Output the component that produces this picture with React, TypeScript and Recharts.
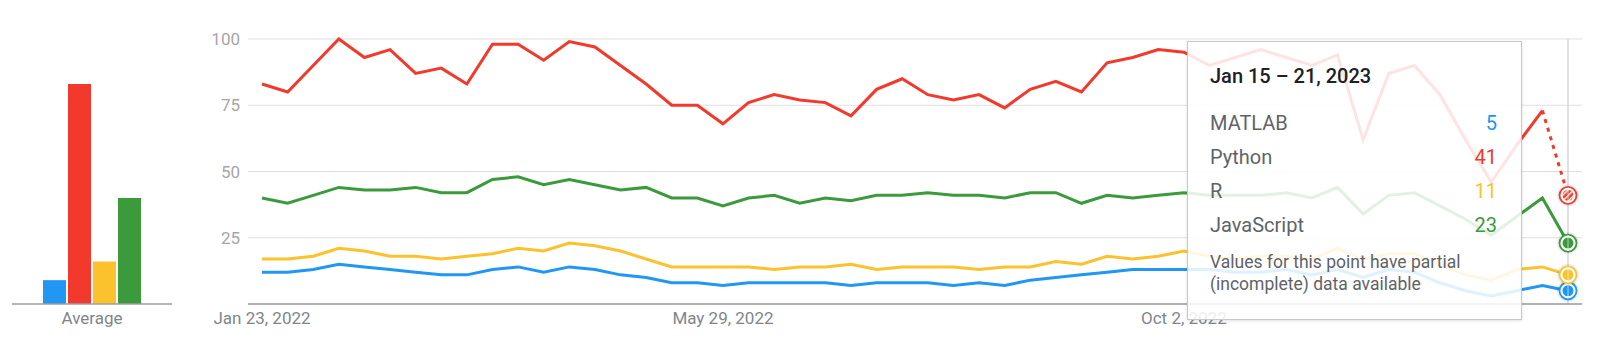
import React from 'react';
import { BarChart, Bar, LineChart, Line, XAxis, YAxis, CartesianGrid, ReferenceLine } from 'recharts';

const weeks = [
  'Jan 23, 2022', 'Jan 30, 2022', 'Feb 6, 2022', 'Feb 13, 2022', 'Feb 20, 2022', 'Feb 27, 2022',
  'Mar 6, 2022', 'Mar 13, 2022', 'Mar 20, 2022', 'Mar 27, 2022', 'Apr 3, 2022', 'Apr 10, 2022',
  'Apr 17, 2022', 'Apr 24, 2022', 'May 1, 2022', 'May 8, 2022', 'May 15, 2022', 'May 22, 2022',
  'May 29, 2022', 'Jun 5, 2022', 'Jun 12, 2022', 'Jun 19, 2022', 'Jun 26, 2022', 'Jul 3, 2022',
  'Jul 10, 2022', 'Jul 17, 2022', 'Jul 24, 2022', 'Jul 31, 2022', 'Aug 7, 2022', 'Aug 14, 2022',
  'Aug 21, 2022', 'Aug 28, 2022', 'Sep 4, 2022', 'Sep 11, 2022', 'Sep 18, 2022', 'Sep 25, 2022',
  'Oct 2, 2022', 'Oct 9, 2022', 'Oct 16, 2022', 'Oct 23, 2022', 'Oct 30, 2022', 'Nov 6, 2022',
  'Nov 13, 2022', 'Nov 20, 2022', 'Nov 27, 2022', 'Dec 4, 2022', 'Dec 11, 2022', 'Dec 18, 2022',
  'Dec 25, 2022', 'Jan 1, 2023', 'Jan 8, 2023', 'Jan 15, 2023',
];

const matlab = [
  12, 12, 13, 15, 14, 13, 12, 11, 11, 13, 14, 12, 14, 13, 11, 10, 8, 8, 7, 8, 8, 8, 8, 7, 8, 8,
  8, 7, 8, 7, 9, 10, 11, 12, 13, 13, 13, 13, 12, 12, 13, 11, 13, 10, 13, 12, 8, 5, 3, 5, 7, 5,
];
const python = [
  83, 80, 90, 100, 93, 96, 87, 89, 83, 98, 98, 92, 99, 97, 90, 83, 75, 75, 68, 76, 79, 77, 76, 71, 81, 85,
  79, 77, 79, 74, 81, 84, 80, 91, 93, 96, 95, 90, 93, 96, 93, 90, 94, 62, 87, 90, 79, 62, 46, 60, 73, 41,
];
const rLang = [
  17, 17, 18, 21, 20, 18, 18, 17, 18, 19, 21, 20, 23, 22, 20, 17, 14, 14, 14, 14, 13, 14, 14, 15, 13, 14,
  14, 14, 13, 14, 14, 16, 15, 18, 17, 18, 20, 18, 17, 18, 18, 17, 21, 17, 19, 19, 15, 11, 9, 13, 14, 11,
];
const javascript = [
  40, 38, 41, 44, 43, 43, 44, 42, 42, 47, 48, 45, 47, 45, 43, 44, 40, 40, 37, 40, 41, 38, 40, 39, 41, 41,
  42, 41, 41, 40, 42, 42, 38, 41, 40, 41, 42, 41, 41, 41, 42, 40, 44, 34, 41, 42, 37, 32, 26, 33, 40, 23,
];

const seriesNames = ['MATLAB', 'Python', 'R', 'JavaScript'];
const seriesColors = ['#2196f3', '#f2392c', '#fbc22d', '#3b9a3b'];
const averages = [9, 83, 16, 40];

const yTicks = [0, 25, 50, 75, 100];
const xTicks = ['Jan 23, 2022', 'May 29, 2022', 'Oct 2, 2022'];
const tooltipTitle = 'Jan 15 – 21, 2023';
const tooltipNote = ['Values for this point have partial', '(incomplete) data available'];

const last = weeks.length - 1;
const seriesValues = [matlab, python, rLang, javascript];

const barData = [
  {
    name: 'Average',
    MATLAB: averages[0],
    Python: averages[1],
    R: averages[2],
    JavaScript: averages[3],
  },
];

// python gets split so the last (partial) week can be drawn dotted
const lineData = weeks.map((week, i) => ({
  week,
  MATLAB: matlab[i],
  Python: i < last ? python[i] : null,
  PythonPartial: i >= last - 1 ? python[i] : null,
  R: rLang[i],
  JavaScript: javascript[i],
}));

const font = 'Roboto, "Noto Sans", sans-serif';

const EndMarker = (props: any) => {
  const { cx, cy, index, stroke, hatched } = props;
  if (index !== last || cx == null || cy == null) return <g key={`m-${index}`} />;
  const pid = `hatch-${index}-${stroke.replace('#', '')}`;
  return (
    <g key={`m-${index}`}>
      {hatched && (
        <defs>
          <pattern id={pid} width="4" height="4" patternUnits="userSpaceOnUse" patternTransform="rotate(45)">
            <rect width="4" height="4" fill={stroke} />
            <rect width="1.4" height="4" fill="#fff" />
          </pattern>
        </defs>
      )}
      <circle cx={cx} cy={cy} r={11} fill="rgba(0,0,0,0.07)" />
      <circle cx={cx} cy={cy} r={8.5} fill="#fff" stroke={stroke} strokeWidth={1.8} />
      <circle cx={cx} cy={cy} r={5.5} fill={hatched ? `url(#${pid})` : stroke} />
      <line x1={cx} x2={cx} y1={cy - 8} y2={cy + 8} stroke="rgba(255,255,255,0.6)" strokeWidth={1} />
    </g>
  );
};

const TooltipBox = () => (
  <div
    style={{
      position: 'absolute',
      left: 1187,
      top: 41,
      width: 335,
      height: 279,
      boxSizing: 'border-box',
      background: 'rgba(255,255,255,0.86)',
      border: '1px solid #c8c8c8',
      boxShadow: '0 1px 3px rgba(0,0,0,0.12)',
      fontFamily: font,
    }}
  >
    <div style={{ position: 'absolute', left: 22, top: 22, fontSize: 20, lineHeight: '24px', fontWeight: 500, color: '#202124' }}>
      {tooltipTitle}
    </div>
    {seriesNames.map((name, k) => (
      <div
        key={name}
        style={{
          position: 'absolute',
          left: 22,
          right: 24,
          top: 69 + 34 * k,
          fontSize: 20,
          lineHeight: '24px',
          display: 'flex',
          justifyContent: 'space-between',
        }}
      >
        <span style={{ color: '#5f6368' }}>{name}</span>
        <span style={{ color: seriesColors[k] }}>{seriesValues[k][last]}</span>
      </div>
    ))}
    <div style={{ position: 'absolute', left: 22, top: 209, fontSize: 17.5, lineHeight: '22px', color: '#5f6368' }}>
      {tooltipNote.map((t) => (
        <div key={t}>{t}</div>
      ))}
    </div>
  </div>
);

export default function App() {
  return (
    <div style={{ position: 'absolute', left: 0, top: 0, width: 1600, height: 352, background: '#fff', fontFamily: font }}>
      <div style={{ position: 'absolute', left: 0, top: 0 }}>
        <BarChart width={200} height={352} data={barData} margin={{ top: 39, right: 28, bottom: 18, left: 12 }} barSize={23} barGap={2}>
          <XAxis
            dataKey="name"
            height={30}
            tickLine={false}
            axisLine={{ stroke: '#9e9e9e', strokeWidth: 1.5 }}
            tick={{ fill: '#80868b', fontSize: 17, fontFamily: font }}
          />
          <YAxis hide domain={[0, 100]} />
          {seriesNames.map((name, k) => (
            <Bar key={name} dataKey={name} fill={seriesColors[k]} isAnimationActive={false} />
          ))}
        </BarChart>
      </div>
      <div style={{ position: 'absolute', left: 190, top: 0 }}>
        <LineChart width={1410} height={352} data={lineData} margin={{ top: 39, right: 18, bottom: 18, left: 18 }}>
          <CartesianGrid vertical={false} stroke="#e0e0e0" />
          <XAxis
            dataKey="week"
            height={30}
            ticks={xTicks}
            interval={0}
            padding={{ left: 14, right: 14 }}
            tickLine={false}
            axisLine={{ stroke: '#9e9e9e', strokeWidth: 1.5 }}
            tick={{ fill: '#80868b', fontSize: 17, fontFamily: font }}
          />
          <YAxis
            width={40}
            domain={[0, 100]}
            ticks={yTicks}
            tickFormatter={(v: number) => (v === 0 ? '' : String(v))}
            axisLine={false}
            tickLine={false}
            tick={{ fill: '#a6a6a6', fontSize: 17, fontFamily: font }}
          />
          <ReferenceLine x={weeks[last]} stroke="#d6d6d6" strokeWidth={1.5} />
          <Line dataKey="MATLAB" stroke={seriesColors[0]} strokeWidth={3} isAnimationActive={false}
            dot={(p: any) => <EndMarker {...p} stroke={seriesColors[0]} />} activeDot={false} />
          <Line dataKey="R" stroke={seriesColors[2]} strokeWidth={3} isAnimationActive={false}
            dot={(p: any) => <EndMarker {...p} stroke={seriesColors[2]} />} activeDot={false} />
          <Line dataKey="JavaScript" stroke={seriesColors[3]} strokeWidth={3} isAnimationActive={false}
            dot={(p: any) => <EndMarker {...p} stroke={seriesColors[3]} />} activeDot={false} />
          <Line dataKey="Python" stroke={seriesColors[1]} strokeWidth={3} isAnimationActive={false} dot={false} activeDot={false} />
          <Line dataKey="PythonPartial" stroke={seriesColors[1]} strokeWidth={3} strokeDasharray="4 5" isAnimationActive={false}
            dot={(p: any) => <EndMarker {...p} stroke={seriesColors[1]} hatched />} activeDot={false} />
        </LineChart>
      </div>
      <TooltipBox />
    </div>
  );
}
